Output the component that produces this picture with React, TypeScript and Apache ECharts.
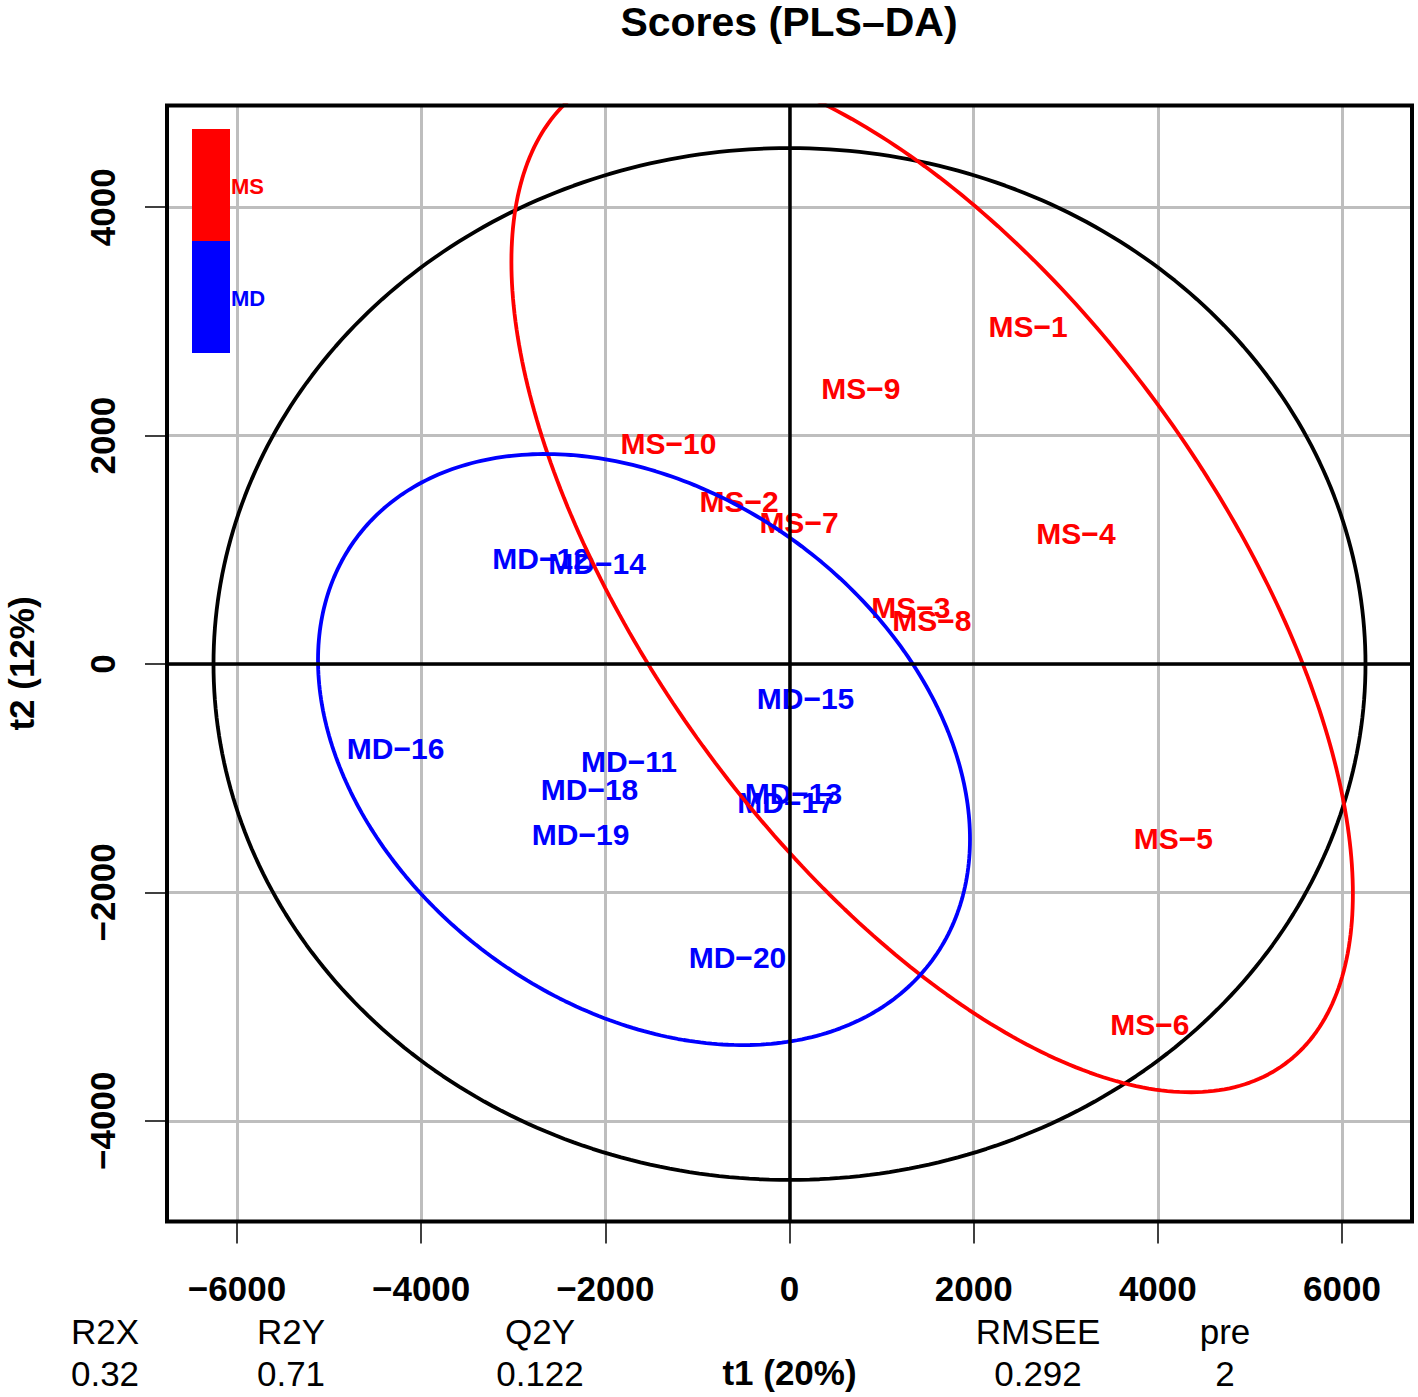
import React, { useEffect, useRef } from "react";
import * as echarts from "echarts";

// ---- data ----
const msLabels = ["MS−1", "MS−2", "MS−3", "MS−4", "MS−5", "MS−6", "MS−7", "MS−8", "MS−9", "MS−10"];
const msT1 = [2590, -548, 1319, 3111, 4169, 3914, 103, 1547, 776, -1314];
const msT2 = [2960, 1419, 499, 1147, -1524, -3161, 1235, 385, 2417, 1935];

const mdLabels = ["MD−11", "MD−12", "MD−13", "MD−14", "MD−15", "MD−16", "MD−17", "MD−18", "MD−19", "MD−20"];
const mdT1 = [-1743, -2698, 43, -2090, 174, -4278, -38, -2172, -2269, -565];
const mdT2 = [-858, 928, -1130, 884, -298, -736, -1217, -1103, -1489, -2566];

const groups = ["MS", "MD"];
const groupColors = ["#ff0000", "#0000ff"];

// ellipses: centre, spread along t1 / t2, correlation
const ellipseKeys = ["T2", "MS", "MD"];
const ellipseColors = ["#000000", "#ff0000", "#0000ff"];
const ellipseCx = [0, 1549, -1580];
const ellipseCy = [0, 755, -749];
const ellipseSx = [6255, 4569, 3540];
const ellipseSy = [4518, 4505, 2588];
const ellipseR = [0, -0.6141, -0.3029];

const xTicks = [-6000, -4000, -2000, 0, 2000, 4000, 6000];
const yTicks = [-4000, -2000, 0, 2000, 4000];
const xRange = [-6760, 6760];
const yRange = [-4882, 4891];

const statNames = ["R2X", "R2Y", "Q2Y", "RMSEE", "pre"];
const statValues = ["0.32", "0.71", "0.122", "0.292", "2"];

const titleText = "Scores (PLS–DA)";
const xName = "t1 (20%)";
const yName = "t2 (12%)";

const FONT = "'Liberation Sans', Arial, Helvetica, sans-serif";

function fmtTick(v: number) {
  return v < 0 ? "−" + Math.abs(v) : String(v);
}

function ellipsePoints(i: number) {
  const pts: number[][] = [];
  const n = 360;
  const s = Math.sqrt(1 - ellipseR[i] * ellipseR[i]);
  for (let k = 0; k <= n; k++) {
    const t = (2 * Math.PI * k) / n;
    const c = Math.cos(t);
    const sn = Math.sin(t);
    pts.push([
      ellipseCx[i] + ellipseSx[i] * c,
      ellipseCy[i] + ellipseSy[i] * (ellipseR[i] * c + s * sn),
    ]);
  }
  return pts;
}

export default function App() {
  const ref = useRef<HTMLDivElement>(null);

  useEffect(() => {
    if (!ref.current) return;
    const chart = echarts.init(ref.current, null, { renderer: "svg" });

    const gridLeft = 167;
    const gridRight = 1412;
    const gridTop = 105.5;
    const gridBottom = 1221.5;

    const labelSeries = (names: string[], xs: number[], ys: number[], color: string, key: string) => ({
      type: "scatter",
      name: key,
      z: 3,
      symbol: "circle",
      symbolSize: 1,
      itemStyle: { color: "rgba(0,0,0,0)", opacity: 1 },
      label: {
        show: true,
        position: "inside",
        formatter: (p: any) => p.name,
        color,
        opacity: 1,
        fontSize: 30,
        fontWeight: "bold",
        fontFamily: FONT,
      },
      labelLayout: { hideOverlap: false },
      data: names.map((n, i) => ({ name: n, value: [xs[i], ys[i]] })),
    });

    const ellipseSeries = ellipseKeys.map((k, i) => ({
      type: "line",
      name: k + " ellipse",
      z: 4,
      data: ellipsePoints(i),
      showSymbol: false,
      symbol: "none",
      clip: true,
      lineStyle: { color: ellipseColors[i], width: 3.8 },
      silent: true,
    }));

    const statXs = [105, 291, 540, 1038, 1225];

    const graphics: any[] = [
      {
        type: "text",
        x: 789,
        y: 22,
        style: {
          text: titleText,
          align: "center",
          verticalAlign: "middle",
          font: `bold 41px ${FONT}`,
          fill: "#000",
        },
      },
      {
        type: "rect",
        z: 100,
        shape: { x: gridLeft, y: gridTop, width: gridRight - gridLeft, height: gridBottom - gridTop },
        style: { fill: "none", stroke: "#000", lineWidth: 4 },
        silent: true,
      },
    ];
    // legend colour bar
    groups.forEach((g, i) => {
      graphics.push({
        type: "rect",
        z: 101,
        shape: { x: 192, y: 129 + i * 112, width: 38, height: 112 },
        style: { fill: groupColors[i] },
      });
      graphics.push({
        type: "text",
        z: 101,
        x: 231,
        y: 186 + i * 112,
        style: {
          text: g,
          align: "left",
          verticalAlign: "middle",
          font: `bold 22px ${FONT}`,
          fill: groupColors[i],
        },
      });
    });
    statNames.forEach((s, i) => {
      graphics.push({
        type: "text",
        x: statXs[i],
        y: 1331,
        style: { text: s, align: "center", verticalAlign: "middle", font: `35px ${FONT}`, fill: "#000" },
      });
      graphics.push({
        type: "text",
        x: statXs[i],
        y: 1373,
        style: { text: statValues[i], align: "center", verticalAlign: "middle", font: `35px ${FONT}`, fill: "#000" },
      });
    });

    const axisCommon = {
      type: "value",
      axisLine: { show: false, onZero: false },
      splitLine: { show: true, lineStyle: { color: "#bebebe", width: 3 } },
      nameLocation: "middle",
      nameTextStyle: { fontSize: 35, fontWeight: "bold", color: "#000", fontFamily: FONT },
    };

    chart.setOption({
      animation: false,
      backgroundColor: "#ffffff",
      grid: {
        left: gridLeft,
        top: gridTop,
        width: gridRight - gridLeft,
        height: gridBottom - gridTop,
        containLabel: false,
        outerBoundsMode: "none",
        show: false,
      },
      xAxis: {
        ...axisCommon,
        min: xRange[0],
        max: xRange[1],
        name: xName,
        nameGap: 133,
        axisTick: { show: true, length: 22, lineStyle: { color: "#000", width: 1.5 }, customValues: xTicks },
        axisLabel: {
          customValues: xTicks,
          formatter: (v: number) => fmtTick(v),
          fontSize: 35,
          fontWeight: "bold",
          color: "#000",
          fontFamily: FONT,
          margin: 49,
        },
      },
      yAxis: {
        ...axisCommon,
        min: yRange[0],
        max: yRange[1],
        name: yName,
        nameGap: 128,
        axisTick: { show: true, length: 22, lineStyle: { color: "#000", width: 1.5 }, customValues: yTicks },
        axisLabel: {
          customValues: yTicks,
          formatter: (v: number) => fmtTick(v),
          fontSize: 35,
          fontWeight: "bold",
          color: "#000",
          fontFamily: FONT,
          rotate: 90,
          margin: 47,
        },
      },
      series: [
        {
          type: "scatter",
          name: "zero lines",
          z: 2,
          data: [],
          markLine: {
            silent: true,
            symbol: ["none", "none"],
            label: { show: false },
            lineStyle: { color: "#000", width: 3.5, type: "solid" },
            data: [{ xAxis: 0 }, { yAxis: 0 }],
          },
        },
        labelSeries(msLabels, msT1, msT2, groupColors[0], "MS"),
        labelSeries(mdLabels, mdT1, mdT2, groupColors[1], "MD"),
        ...ellipseSeries,
      ],
      graphic: graphics,
    });

    return () => chart.dispose();
  }, []);

  return (
    <div
      ref={ref}
      style={{ position: "absolute", left: 0, top: 0, width: 1418, height: 1397, background: "#fff" }}
    />
  );
}
